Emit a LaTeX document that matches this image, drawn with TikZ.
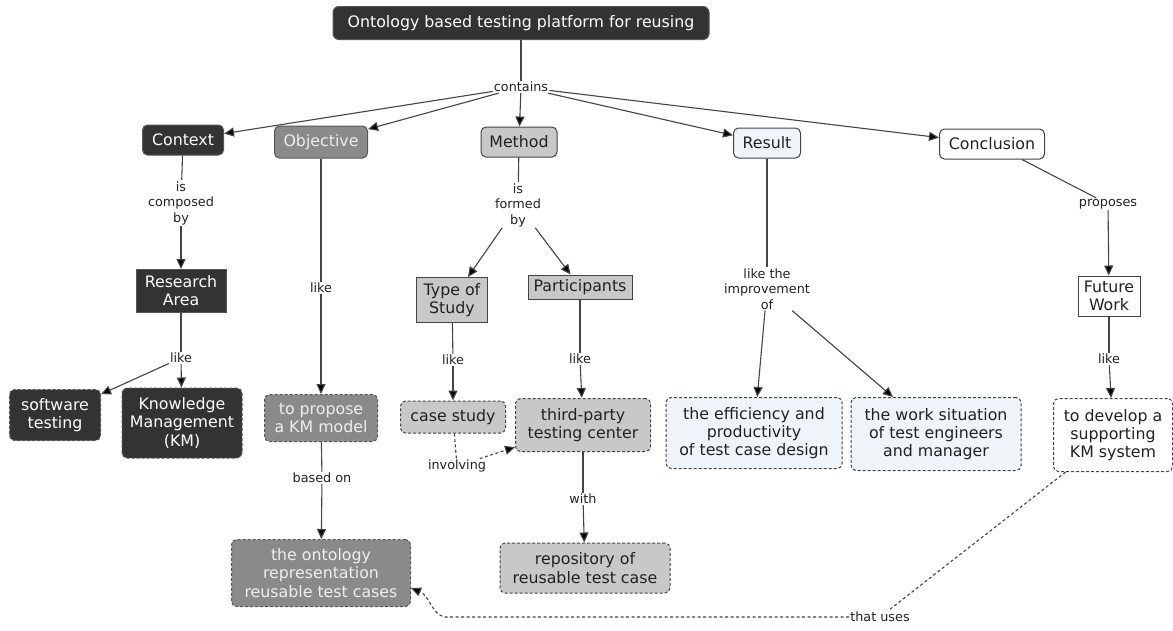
\documentclass[tikz,border=0pt]{standalone}
\usepackage{fontspec}
\setmainfont{DejaVu Sans}
\usetikzlibrary{arrows.meta}
\definecolor{darkfill}{HTML}{333333}
\definecolor{darkedge}{HTML}{555555}
\definecolor{midfill}{HTML}{8A8A8A}
\definecolor{midtext}{HTML}{EEEEEE}
\definecolor{lightfill}{HTML}{C8C8C8}
\definecolor{bluefill}{HTML}{EEF4F7}
\definecolor{edgecol}{HTML}{444444}
\definecolor{inkcol}{HTML}{222222}
\newcommand{\nodefont}{\fontsize{15.8}{18.2}\selectfont}
\newcommand{\linkfont}{\fontsize{12.8}{15.5}\selectfont}
\begin{document}
\begin{tikzpicture}[x=1pt,y=-1pt,
  concept/.style={draw=edgecol, line width=1pt, rounded corners=5pt, font=\nodefont,
    align=center, inner sep=1pt, text=inkcol},
  squared/.style={rounded corners=0pt},
  dotted border/.style={dash pattern=on 3pt off 2pt},
  darkc/.style={concept, fill=darkfill, draw=darkedge, text=white},
  midc/.style={concept, fill=midfill, draw=darkedge, text=midtext},
  lightc/.style={concept, fill=lightfill},
  bluec/.style={concept, fill=bluefill},
  whitec/.style={concept, fill=white},
  link/.style={font=\linkfont, text=inkcol, align=center, inner sep=1pt},
  conn/.style={draw=edgecol, line width=1.1pt},
  arr/.style={conn, -{Triangle[length=10pt,width=9pt,fill=black]}},
  dasharr/.style={arr, dash pattern=on 3pt off 2.5pt},
  dashline/.style={conn, dash pattern=on 3pt off 2.5pt}]
\useasboundingbox (0,0) rectangle (1173,630);

% top concept and main branches
\node[darkc, minimum width=376pt, minimum height=33pt, rounded corners=6pt] (top) at (521,23) {Ontology based testing platform for reusing};
\node[link] (contains) at (521,87) {contains};
\node[darkc, minimum width=81pt, minimum height=30pt] (context) at (183,140) {Context};
\node[midc, minimum width=93pt, minimum height=32pt] (objective) at (321,142) {Objective};
\node[lightc, minimum width=76pt, minimum height=30pt] (method) at (519,142) {Method};
\node[bluec, minimum width=67pt, minimum height=30pt] (result) at (767,143) {Result};
\node[whitec, minimum width=105pt, minimum height=30pt] (conclusion) at (992,144) {Conclusion};

% second level
\node[link] (composed) at (181,203) {is\\composed\\by};
\node[darkc, squared, minimum width=90pt, minimum height=43pt] (area) at (181,291) {Research\\Area};
\node[link] (objlike) at (321,288) {like};
\node[link] (formed) at (518,205) {is\\formed\\by};
\node[lightc, squared, minimum width=71pt, minimum height=45pt] (type) at (452,300) {Type of\\Study};
\node[lightc, squared, minimum width=104pt, minimum height=24pt] (part) at (580,287) {Participants};
\node[link] (improve) at (767,289) {like the\\improvement\\of};
\node[link] (proposes) at (1108,204) {proposes};
\node[whitec, squared, minimum width=62pt, minimum height=40pt] (future) at (1109,296) {Future\\Work};

% leaves
\node[link] (arealike) at (181,358) {like};
\node[darkc, dotted border, minimum width=91pt, minimum height=51pt] (soft) at (55,415) {software\\testing};
\node[darkc, dotted border, minimum width=120pt, minimum height=70pt] (km) at (182,423) {Knowledge\\Management\\(KM)};
\node[midc, dotted border, minimum width=113pt, minimum height=47pt] (propose) at (321,418) {to propose\\a KM model};
\node[link] (based) at (322,478) {based on};
\node[midc, dotted border, minimum width=179pt, minimum height=67pt] (onto) at (321,573) {the ontology\\representation\\reusable test cases};
\node[link] (typelike) at (453,360) {like};
\node[link] (partlike) at (580,359) {like};
\node[lightc, dotted border, minimum width=105pt, minimum height=32pt] (case) at (453,417) {case study};
\node[lightc, dotted border, minimum width=135pt, minimum height=53pt] (third) at (583,425) {third-party\\testing center};
\node[link] (involving) at (457,466) {involving};
\node[link] (with) at (583,499) {with};
\node[lightc, dotted border, minimum width=170pt, minimum height=50pt] (repo) at (585,568) {repository of\\reusable test case};
\node[bluec, dotted border, minimum width=176pt, minimum height=71pt] (eff) at (754,433) {the efficiency and\\productivity\\of test case design};
\node[bluec, dotted border, minimum width=170pt, minimum height=73pt] (work) at (936,434) {the work situation\\of test engineers\\and manager};
\node[link] (futlike) at (1109,359) {like};
\node[whitec, dotted border, minimum width=119pt, minimum height=73pt] (develop) at (1113,435) {to develop a\\supporting\\KM system};
\node[link] (uses) at (880,617) {that uses};

% connectors
\draw[conn] (top) -- (contains);
\draw[arr] (contains) -- (context);
\draw[arr] (contains) -- (objective);
\draw[arr] (contains) -- (method);
\draw[arr] (contains) -- (result);
\draw[arr] (contains) -- (conclusion);

\draw[conn] (context) -- (composed);
\draw[arr] (composed) -- (area);
\draw[conn] (area) -- (arealike);
\draw[arr] (arealike) -- (soft);
\draw[arr] (arealike) -- (km);

\draw[conn] (objective) -- (objlike);
\draw[arr] (objlike) -- (propose);
\draw[conn] (propose) -- (based);
\draw[arr] (based) -- (onto);

\draw[conn] (method) -- (formed);
\draw[arr] (formed) -- (type);
\draw[arr] (formed) -- (part);
\draw[conn] (type) -- (typelike);
\draw[arr] (typelike) -- (case);
\draw[conn] (part) -- (partlike);
\draw[arr] (partlike) -- (third);
\draw[dashline] (case) -- (involving);
\draw[dasharr] (involving) -- (third);
\draw[conn] (third) -- (with);
\draw[arr] (with) -- (repo);

\draw[conn] (result) -- (improve);
\draw[arr] (improve) -- (eff);
\draw[arr] (improve) -- (work);

\draw[conn] (conclusion) -- (proposes);
\draw[arr] (proposes) -- (future);
\draw[conn] (future) -- (futlike);
\draw[arr] (futlike) -- (develop);

\draw[dashline] (develop) -- (uses);
\coordinate (bend) at (445,617);
\draw[dasharr] (uses.west) -- (bend) .. controls (432,615) and (430,596) .. ([yshift=-15pt]onto.east);
\end{tikzpicture}
\end{document}
